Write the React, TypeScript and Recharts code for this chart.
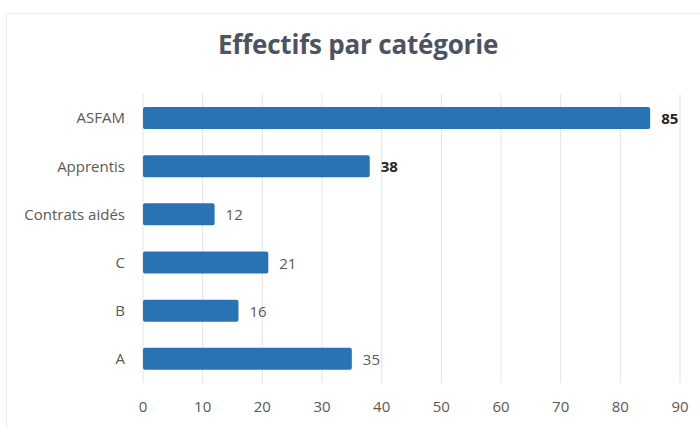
import React from "react";
import { BarChart, Bar, XAxis, YAxis, CartesianGrid, LabelList } from "recharts";

const categories = ["ASFAM", "Apprentis", "Contrats aidés", "C", "B", "A"];
const values = [85, 38, 12, 21, 16, 35];
const boldLabels = [true, true, false, false, false, false];
const xTicks = [0, 10, 20, 30, 40, 50, 60, 70, 80, 90];

const data = categories.map((name, i) => ({ name, value: values[i], bold: boldLabels[i] }));

const FONT = "'Open Sans', 'Liberation Sans', sans-serif";

const ValueLabel = (props: any) => {
  const { x, y, width, height, value, index } = props;
  const bold = data[index]?.bold;
  return (
    <text
      x={x + width + 11}
      y={y + height / 2}
      dominantBaseline="central"
      fontFamily={FONT}
      fontSize={15}
      fontWeight={bold ? 700 : 400}
      fill={bold ? "#262626" : "#595959"}
    >
      {value}
    </text>
  );
};

export default function App() {
  return (
    <div style={{ position: "absolute", left: 0, top: 0, width: 700, height: 428, background: "#fff", overflow: "hidden" }}>
      <div style={{ position: "absolute", left: 6, top: 13, width: 700, height: 1, background: "#ececec" }} />
      <div style={{ position: "absolute", left: 6, top: 13, width: 1, height: 420, background: "#ececec" }} />
      <div
        style={{
          position: "absolute",
          left: 0,
          top: 26,
          width: 716,
          textAlign: "center",
          fontFamily: FONT,
          fontWeight: 700,
          fontSize: 26,
          color: "#4d5361",
          letterSpacing: -0.2,
        }}
      >
        Effectifs par catégorie
      </div>
      <BarChart
        width={700}
        height={428}
        data={data}
        layout="vertical"
        margin={{ top: 94, right: 20, bottom: 10, left: 10 }}
        style={{ position: "absolute", left: 0, top: 0 }}
      >
        <CartesianGrid horizontal={false} vertical={true} stroke="#e3e3e3" />
        <XAxis
          type="number"
          domain={[0, 90]}
          ticks={xTicks}
          axisLine={false}
          tickLine={false}
          tickMargin={12}
          height={35}
          tick={{ fill: "#595959", fontSize: 15, fontFamily: FONT }}
        />
        <YAxis
          type="category"
          dataKey="name"
          width={133}
          axisLine={false}
          tickLine={false}
          tickMargin={12}
          tick={{ fill: "#595959", fontSize: 15, fontFamily: FONT }}
        />
        <Bar dataKey="value" fill="#2873b4" barSize={22} radius={2} isAnimationActive={false}>
          <LabelList dataKey="value" content={<ValueLabel />} />
        </Bar>
      </BarChart>
    </div>
  );
}
